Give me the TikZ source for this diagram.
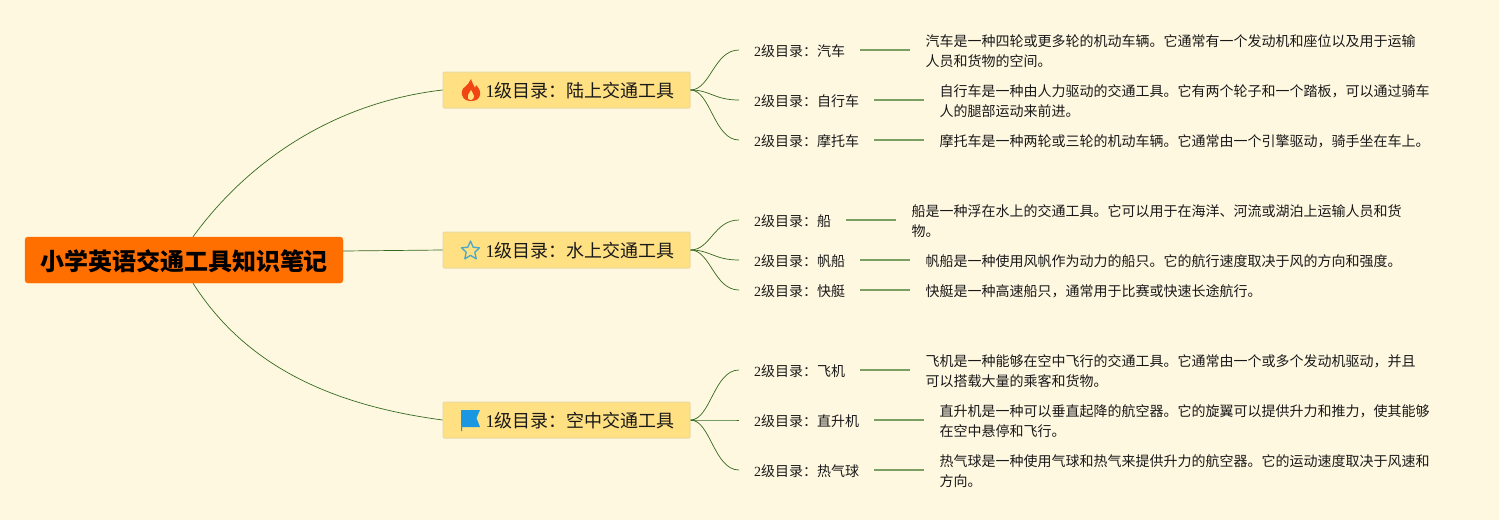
\documentclass[tikz,border=0pt]{standalone}
\usepackage{fontspec}
\setmainfont{Noto Sans CJK SC}
\newfontfamily\digitfont{Liberation Serif}
\usepackage{xcolor}
\usetikzlibrary{positioning}
\definecolor{paperBg}{RGB}{255, 248, 225}
\definecolor{rootOrange}{RGB}{255, 111, 0}
\definecolor{topicYellow}{RGB}{255, 224, 130}
\definecolor{topicEdge}{RGB}{232, 218, 165}
\definecolor{branchGreen}{RGB}{51, 105, 30}
\definecolor{leafGreen}{RGB}{124, 160, 100}
\definecolor{textDark}{RGB}{25, 25, 25}
\definecolor{flameRed}{RGB}{240, 70, 20}
\definecolor{starBlue}{RGB}{70, 170, 205}
\definecolor{flagBlue}{RGB}{27, 150, 225}
\tikzset{
    rootbox/.style={rounded corners=3pt,fill=rootOrange,draw=rootOrange,text=black,
        minimum width=318pt,minimum height=46pt,inner sep=0pt,text height=23.2pt,text depth=3pt,
        font=\fontsize{24}{28}\selectfont\bfseries},
    topicbox/.style={rounded corners=1pt,fill=topicYellow,draw=topicEdge,line width=1pt,text=textDark,
        minimum width=247pt,minimum height=36pt,inner sep=0pt,text height=18.7pt,text depth=3pt,
        font=\fontsize{18}{22}\selectfont},
    subitem/.style={anchor=west,inner xsep=15pt,inner ysep=0pt,text=textDark,text height=15.6pt,text depth=3pt,
        font=\fontsize{14}{20}\selectfont},
    detail/.style={anchor=west,inner xsep=15pt,inner ysep=2pt,text=textDark,align=left,yshift=-1pt,
        font=\fontsize{14}{20.5}\selectfont},
    branch/.style={draw=branchGreen,line width=0.7pt},
    leafline/.style={draw=leafGreen,line width=1.5pt}
}
\begin{document}
\begin{tikzpicture}[x=1pt,y=-1pt]
        \useasboundingbox[fill=paperBg] (0,0) rectangle (1499,520);

        % Root
        \node[rootbox] (root) at (184,260) {小学英语交通工具知识笔记};

        % Topics
        \node[topicbox] (land) at (566.5,90) {\hspace*{27pt}{\digitfont 1}级目录：陆上交通工具};
        \node[topicbox] (water) at (566.5,250) {\hspace*{27pt}{\digitfont 1}级目录：水上交通工具};
        \node[topicbox] (air) at (566.5,420) {\hspace*{27pt}{\digitfont 1}级目录：空中交通工具};

        % Land
        \node[subitem] (car) at (739,50) {{\digitfont 2}级目录：汽车};
        \node[subitem] (bike) at (739,100) {{\digitfont 2}级目录：自行车};
        \node[subitem] (moto) at (739,140) {{\digitfont 2}级目录：摩托车};
        \node[detail] (carText) at ([xshift=50pt]car.east) {汽车是一种四轮或更多轮的机动车辆。它通常有一个发动机和座位以及用于运输\\人员和货物的空间。};
        \node[detail] (bikeText) at ([xshift=50pt]bike.east) {自行车是一种由人力驱动的交通工具。它有两个轮子和一个踏板，可以通过骑车\\人的腿部运动来前进。};
        \node[detail] (motoText) at ([xshift=50pt]moto.east) {摩托车是一种两轮或三轮的机动车辆。它通常由一个引擎驱动，骑手坐在车上。};

        % Water
        \node[subitem] (ship) at (739,220) {{\digitfont 2}级目录：船};
        \node[subitem] (sail) at (739,260) {{\digitfont 2}级目录：帆船};
        \node[subitem] (speed) at (739,290) {{\digitfont 2}级目录：快艇};
        \node[detail] (shipText) at ([xshift=50pt]ship.east) {船是一种浮在水上的交通工具。它可以用于在海洋、河流或湖泊上运输人员和货\\物。};
        \node[detail] (sailText) at ([xshift=50pt]sail.east) {帆船是一种使用风帆作为动力的船只。它的航行速度取决于风的方向和强度。};
        \node[detail] (speedText) at ([xshift=50pt]speed.east) {快艇是一种高速船只，通常用于比赛或快速长途航行。};

        % Air
        \node[subitem] (plane) at (739,370) {{\digitfont 2}级目录：飞机};
        \node[subitem] (heli) at (739,420) {{\digitfont 2}级目录：直升机};
        \node[subitem] (balloon) at (739,470) {{\digitfont 2}级目录：热气球};
        \node[detail] (planeText) at ([xshift=50pt]plane.east) {飞机是一种能够在空中飞行的交通工具。它通常由一个或多个发动机驱动，并且\\可以搭载大量的乘客和货物。};
        \node[detail] (heliText) at ([xshift=50pt]heli.east) {直升机是一种可以垂直起降的航空器。它的旋翼可以提供升力和推力，使其能够\\在空中悬停和飞行。};
        \node[detail] (balloonText) at ([xshift=50pt]balloon.east) {热气球是一种使用气球和热气来提供升力的航空器。它的运动速度取决于风速和\\方向。};

        % Root connectors
        \draw[branch] ([xshift=9pt]root.north) .. controls (245,165) and (330,103) .. (land.west);
        \draw[branch] ([yshift=9pt]root.east) -- (water.west);
        \draw[branch] ([xshift=9pt]root.south) .. controls (245,365) and (330,405) .. (air.west);

        % Topic connectors
        \foreach \topic/\kid in {land/car,land/bike,land/moto,water/ship,water/sail,water/speed,air/plane,air/heli,air/balloon}
            \draw[branch] (\topic.east) .. controls +(20,0) and ([xshift=-25pt]\kid.west) .. (\kid.west);

        % Leaf lines
        \foreach \kid/\txt in {car/carText,bike/bikeText,moto/motoText,ship/shipText,sail/sailText,speed/speedText,plane/planeText,heli/heliText,balloon/balloonText}
            \draw[leafline] (\kid.east) -- (\kid.east -| \txt.west);

        % Icons
        \fill[flameRed] (470,101) .. controls (464,101) and (461,96) .. (462,91)
            .. controls (463,87) and (466,87) .. (468,84) .. controls (469,82) and (470,81) .. (471,79)
            .. controls (472,83) and (474,85) .. (475,88) .. controls (476,87) and (476,86) .. (476,85)
            .. controls (479,88) and (481,92) .. (480,95) .. controls (479,99) and (476,101) .. (471,101) -- cycle;
        \fill[topicYellow] (471,100) .. controls (468,100) and (467,97) .. (468,95)
            .. controls (469,93) and (470,92) .. (471,90) .. controls (472,93) and (474,94) .. (474,96)
            .. controls (474,98) and (473,100) .. (471,100) -- cycle;
        \draw[starBlue,line width=1.3pt,line join=round] (470.5,241) -- (473.2,247.2) -- (479.5,247.8) -- (474.8,252.2)
            -- (476.2,258.8) -- (470.5,255.4) -- (464.8,258.8) -- (466.2,252.2) -- (461.5,247.8) -- (467.8,247.2) -- cycle;
        \fill[flagBlue] (461,410) -- (480,410) -- (476.5,418) -- (480,427) -- (462,427) -- (462,431) -- (461,431) -- cycle;
    \end{tikzpicture}
\end{document}
